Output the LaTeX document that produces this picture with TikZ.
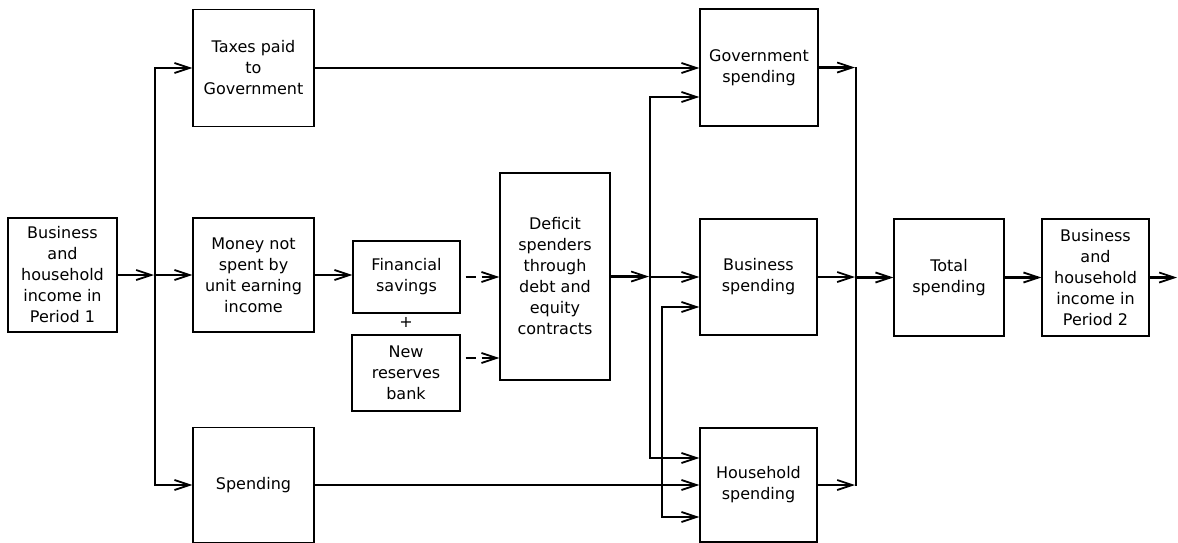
\documentclass[tikz,border=0pt]{standalone}
\usepackage{fontspec}
\setmainfont{DejaVu Sans}
\usetikzlibrary{arrows.meta}
\begin{document}
\begin{tikzpicture}[x=1pt,y=-1pt,
  box/.style={draw, line width=1.4pt, inner sep=0pt, align=center, font=\fontsize{16}{21}\selectfont},
  conn/.style={line width=2.8pt, -{Straight Barb[length=15pt,width=10pt,line width=1.8pt]}},
  dconn/.style={conn, dash pattern=on 10pt off 6pt on 40pt off 5pt, dash phase=56pt},
  ln/.style={line width=2.8pt, line cap=rect},
]
\useasboundingbox (0,0) rectangle (1178,542);
% boxes
\node[box, minimum width=109pt, minimum height=114pt] (inc1) at (62.5,275) {Business\\and\\household\\income in\\Period 1};
\node[box, minimum width=121pt, minimum height=117pt] (taxes) at (253.5,68) {Taxes paid\\to\\Government};
\node[box, minimum width=121pt, minimum height=114pt] (money) at (253.5,275) {Money not\\spent by\\unit earning\\income};
\node[box, minimum width=121pt, minimum height=115pt] (spend) at (253.5,485) {Spending};
\node[box, minimum width=107pt, minimum height=72pt] (fin) at (406.5,277) {Financial\\savings};
\node[font=\fontsize{16}{21}\selectfont] (plus) at (406,322) {+};
\node[box, minimum width=108pt, minimum height=76pt] (newres) at (406,373) {New\\reserves\\bank};
\node[box, minimum width=110pt, minimum height=207pt] (def) at (555,276.5) {Deficit\\spenders\\through\\debt and\\equity\\contracts};
\node[box, minimum width=118pt, minimum height=117pt] (gov) at (759,67.5) {Government\\spending};
\node[box, minimum width=117pt, minimum height=116pt] (bus) at (758.5,277) {Business\\spending};
\node[box, minimum width=117pt, minimum height=114pt] (hh) at (758.5,485) {Household\\spending};
\node[box, minimum width=110pt, minimum height=117pt] (tot) at (949,277.5) {Total\\spending};
\node[box, minimum width=107pt, minimum height=117pt] (inc2) at (1095.5,277.5) {Business\\and\\household\\income in\\Period 2};
% junction coordinates
\coordinate (s) at (155,275);
\coordinate (ga) at (650,97);
\coordinate (ha) at (650,458);
\coordinate (bb) at (662,307);
\coordinate (hb) at (662,517);
\coordinate (gt) at (856,68);
\coordinate (nr) at ([yshift=15pt]newres.east);
\coordinate (out) at (1177,277.5);
% left split
\draw[ln] (s |- taxes.west) -- (s |- spend.west);
\draw[conn, shorten >=1pt] (inc1.east) -- (s);
\draw[conn] (s |- taxes.west) -- (taxes.west);
\draw[conn] (s) -- (money.west);
\draw[conn] (s |- spend.west) -- (spend.west);
% middle
\draw[conn] (money.east) -- (money.east -| fin.west);
\draw[dconn] (fin.east) -- (fin.east -| def.west);
\draw[dconn] (nr) -- (nr -| def.west);
\draw[conn] (taxes.east) -- (taxes.east -| gov.west);
\draw[conn] (spend.east) -- (spend.east -| hh.west);
% first distribution line
\draw[ln] (ga) -- (ha);
\draw[conn, shorten >=1pt] (def.east) -- (def.east -| ga);
\draw[conn] (ga) -- (ga -| gov.west);
\draw[conn] (ga |- bus.west) -- (bus.west);
\draw[conn] (ha) -- (ha -| hh.west);
% second distribution line
\draw[ln] (bb) -- (hb);
\draw[conn] (bb) -- (bb -| bus.west);
\draw[conn] (hb) -- (hb -| hh.west);
% collection line
\draw[ln] (gt) -- (gt |- hh.east);
\draw[conn, shorten >=1pt] (gov.east) -- (gov.east -| gt);
\draw[conn, shorten >=1pt] (bus.east) -- (bus.east -| gt);
\draw[conn, shorten >=1pt] (hh.east) -- (hh.east -| gt);
\draw[conn] (gt |- tot.west) -- (tot.west);
\draw[conn] (tot.east) -- (inc2.west);
\draw[conn] (inc2.east) -- (out);
\end{tikzpicture}
\end{document}
